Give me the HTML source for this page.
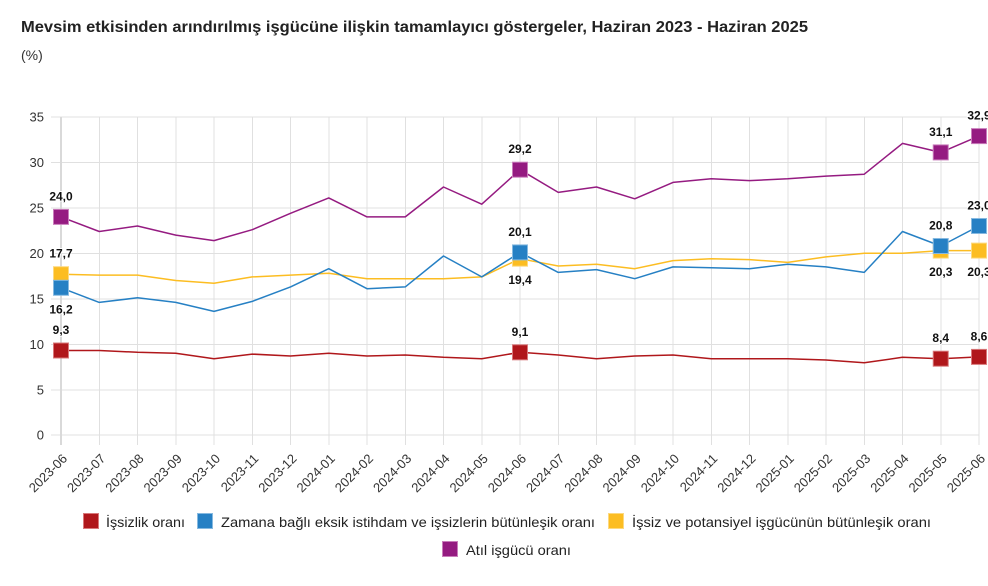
<!DOCTYPE html>
<html><head><meta charset="utf-8"><style>
html,body{margin:0;padding:0;background:#fff;}
svg{display:block;font-family:"Liberation Sans",Arial,sans-serif;}
.yl{font-size:13px;fill:#333;text-anchor:end;}
.xl{font-size:13px;fill:#333;text-anchor:end;}
.dl{font-size:12px;font-weight:bold;fill:#111;text-anchor:middle;stroke:#fff;stroke-width:2px;paint-order:stroke;stroke-linejoin:round;}
.lg{font-size:14px;fill:#222;}
</style></head><body>
<svg width="988" height="586" viewBox="0 0 988 586" xmlns="http://www.w3.org/2000/svg">
<rect width="988" height="586" fill="#fff"/>
<text x="21" y="32" font-size="16" font-weight="bold" fill="#222" textLength="787" lengthAdjust="spacingAndGlyphs">Mevsim etkisinden arındırılmış işgücüne ilişkin tamamlayıcı göstergeler, Haziran 2023 - Haziran 2025</text>
<text x="21" y="60" font-size="14" fill="#333">(%)</text>

<g stroke="#e0e0e0" stroke-width="1" shape-rendering="crispEdges">
<line x1="51" x2="979" y1="117" y2="117"/>
<line x1="51" x2="979" y1="162.6" y2="162.6"/>
<line x1="51" x2="979" y1="208.1" y2="208.1"/>
<line x1="51" x2="979" y1="253.7" y2="253.7"/>
<line x1="51" x2="979" y1="299.2" y2="299.2"/>
<line x1="51" x2="979" y1="344.6" y2="344.6"/>
<line x1="51" x2="979" y1="390" y2="390"/>
<line x1="51" x2="979" y1="435" y2="435"/>
<line x1="99.25" x2="99.25" y1="117" y2="445"/>
<line x1="137.5" x2="137.5" y1="117" y2="445"/>
<line x1="175.75" x2="175.75" y1="117" y2="445"/>
<line x1="214" x2="214" y1="117" y2="445"/>
<line x1="252.25" x2="252.25" y1="117" y2="445"/>
<line x1="290.5" x2="290.5" y1="117" y2="445"/>
<line x1="328.75" x2="328.75" y1="117" y2="445"/>
<line x1="367" x2="367" y1="117" y2="445"/>
<line x1="405.25" x2="405.25" y1="117" y2="445"/>
<line x1="443.5" x2="443.5" y1="117" y2="445"/>
<line x1="481.75" x2="481.75" y1="117" y2="445"/>
<line x1="520" x2="520" y1="117" y2="445"/>
<line x1="558.25" x2="558.25" y1="117" y2="445"/>
<line x1="596.5" x2="596.5" y1="117" y2="445"/>
<line x1="634.75" x2="634.75" y1="117" y2="445"/>
<line x1="673" x2="673" y1="117" y2="445"/>
<line x1="711.25" x2="711.25" y1="117" y2="445"/>
<line x1="749.5" x2="749.5" y1="117" y2="445"/>
<line x1="787.75" x2="787.75" y1="117" y2="445"/>
<line x1="826" x2="826" y1="117" y2="445"/>
<line x1="864.25" x2="864.25" y1="117" y2="445"/>
<line x1="902.5" x2="902.5" y1="117" y2="445"/>
<line x1="940.75" x2="940.75" y1="117" y2="445"/>
<line x1="979" x2="979" y1="117" y2="445"/>
</g>
<line x1="61" x2="61" y1="117" y2="445" stroke="#d9d9d9" stroke-width="2"/>

<g class="yl">
<text x="44" y="121.5">35</text>
<text x="44" y="167.1">30</text>
<text x="44" y="212.6">25</text>
<text x="44" y="258.2">20</text>
<text x="44" y="303.7">15</text>
<text x="44" y="349.1">10</text>
<text x="44" y="394.5">5</text>
<text x="44" y="439.5">0</text>
</g>

<g class="xl">
<text transform="translate(68,459.4) rotate(-45)">2023-06</text>
<text transform="translate(106.25,459.4) rotate(-45)">2023-07</text>
<text transform="translate(144.5,459.4) rotate(-45)">2023-08</text>
<text transform="translate(182.75,459.4) rotate(-45)">2023-09</text>
<text transform="translate(221,459.4) rotate(-45)">2023-10</text>
<text transform="translate(259.25,459.4) rotate(-45)">2023-11</text>
<text transform="translate(297.5,459.4) rotate(-45)">2023-12</text>
<text transform="translate(335.75,459.4) rotate(-45)">2024-01</text>
<text transform="translate(374,459.4) rotate(-45)">2024-02</text>
<text transform="translate(412.25,459.4) rotate(-45)">2024-03</text>
<text transform="translate(450.5,459.4) rotate(-45)">2024-04</text>
<text transform="translate(488.75,459.4) rotate(-45)">2024-05</text>
<text transform="translate(527,459.4) rotate(-45)">2024-06</text>
<text transform="translate(565.25,459.4) rotate(-45)">2024-07</text>
<text transform="translate(603.5,459.4) rotate(-45)">2024-08</text>
<text transform="translate(641.75,459.4) rotate(-45)">2024-09</text>
<text transform="translate(680,459.4) rotate(-45)">2024-10</text>
<text transform="translate(718.25,459.4) rotate(-45)">2024-11</text>
<text transform="translate(756.5,459.4) rotate(-45)">2024-12</text>
<text transform="translate(794.75,459.4) rotate(-45)">2025-01</text>
<text transform="translate(833,459.4) rotate(-45)">2025-02</text>
<text transform="translate(871.25,459.4) rotate(-45)">2025-03</text>
<text transform="translate(909.5,459.4) rotate(-45)">2025-04</text>
<text transform="translate(947.75,459.4) rotate(-45)">2025-05</text>
<text transform="translate(986,459.4) rotate(-45)">2025-06</text>
</g>

<g fill="none" stroke-width="1.5" stroke-linejoin="round">
<polyline stroke="#b0171b" points="61,350.5 99.25,350.5 137.5,352.3 175.75,353.2 214,358.7 252.25,354.1 290.5,356 328.75,353.2 367,356 405.25,355 443.5,357.3 481.75,358.7 520,352.3 558.25,355 596.5,358.7 634.75,356 673,355 711.25,358.7 749.5,358.7 787.75,358.7 826,360 864.25,362.8 902.5,357.3 940.75,358.7 979,356.9"/>
<polyline stroke="#fcbd22" points="61,274.2 99.25,275.1 137.5,275.1 175.75,280.5 214,283.3 252.25,276.9 290.5,275.1 328.75,273.3 367,278.7 405.25,278.7 443.5,278.7 481.75,276.9 520,258.7 558.25,266 596.5,264.2 634.75,268.7 673,260.6 711.25,258.7 749.5,259.6 787.75,262.4 826,256.9 864.25,253.3 902.5,253.3 940.75,250.6 979,250.6"/>
<polyline stroke="#2680c4" points="61,287.8 99.25,302.4 137.5,297.8 175.75,302.4 214,311.4 252.25,301.4 290.5,286.9 328.75,268.7 367,288.7 405.25,286.9 443.5,256 481.75,276.9 520,252.4 558.25,272.4 596.5,269.6 634.75,278.7 673,266.9 711.25,267.8 749.5,268.7 787.75,264.2 826,266.9 864.25,272.4 902.5,231.5 940.75,246 979,226"/>
<polyline stroke="#951b81" points="61,216.9 99.25,231.5 137.5,226 175.75,235.1 214,240.6 252.25,229.7 290.5,213.3 328.75,197.9 367,216.9 405.25,216.9 443.5,187 481.75,204.2 520,169.7 558.25,192.4 596.5,187 634.75,198.8 673,182.4 711.25,178.8 749.5,180.6 787.75,178.8 826,176.1 864.25,174.2 902.5,143.4 940.75,152.4 979,136.1"/>
</g>

<g stroke-width="1">
<g fill="#b0171b" stroke="#d8787a">
<rect x="53.5" y="343" width="15" height="15"/>
<rect x="512.5" y="344.8" width="15" height="15"/>
<rect x="933.25" y="351.2" width="15" height="15"/>
<rect x="971.5" y="349.4" width="15" height="15"/>
</g>
<g fill="#fcbd22" stroke="#fdd97f">
<rect x="53.5" y="266.7" width="15" height="15"/>
<rect x="512.5" y="251.2" width="15" height="15"/>
<rect x="933.25" y="243.1" width="15" height="15"/>
<rect x="971.5" y="243.1" width="15" height="15"/>
</g>
<g fill="#2680c4" stroke="#86b9e0">
<rect x="53.5" y="280.3" width="15" height="15"/>
<rect x="512.5" y="244.9" width="15" height="15"/>
<rect x="933.25" y="238.5" width="15" height="15"/>
<rect x="971.5" y="218.5" width="15" height="15"/>
</g>
<g fill="#951b81" stroke="#c97dbb">
<rect x="53.5" y="209.4" width="15" height="15"/>
<rect x="512.5" y="162.2" width="15" height="15"/>
<rect x="933.25" y="144.9" width="15" height="15"/>
<rect x="971.5" y="128.6" width="15" height="15"/>
</g>
</g>

<g class="dl">
<text x="61" y="334">9,3</text>
<text x="61" y="257.7">17,7</text>
<text x="61" y="313.3">16,2</text>
<text x="61" y="200.4">24,0</text>
<text x="520" y="335.8">9,1</text>
<text x="520" y="235.9">20,1</text>
<text x="520" y="284.2">19,4</text>
<text x="520" y="153.2">29,2</text>
<text x="940.75" y="342.2">8,4</text>
<text x="940.75" y="229.5">20,8</text>
<text x="940.75" y="276.1">20,3</text>
<text x="940.75" y="135.9">31,1</text>
<text x="979" y="340.4">8,6</text>
<text x="979" y="209.5">23,0</text>
<text x="979" y="276.1">20,3</text>
<text x="979" y="119.6">32,9</text>
</g>

<g stroke-width="1">
<rect x="83.5" y="513.5" width="15" height="15" fill="#b0171b" stroke="#d8787a"/>
<rect x="197.5" y="513.5" width="15" height="15" fill="#2680c4" stroke="#86b9e0"/>
<rect x="608.5" y="513.5" width="15" height="15" fill="#fcbd22" stroke="#fdd97f"/>
<rect x="442.5" y="541.5" width="15" height="15" fill="#951b81" stroke="#c97dbb"/>
</g>
<g class="lg">
<text x="106" y="527" textLength="79" lengthAdjust="spacingAndGlyphs">İşsizlik oranı</text>
<text x="221" y="527" textLength="374" lengthAdjust="spacingAndGlyphs">Zamana bağlı eksik istihdam ve işsizlerin bütünleşik oranı</text>
<text x="632" y="527" textLength="299" lengthAdjust="spacingAndGlyphs">İşsiz ve potansiyel işgücünün bütünleşik oranı</text>
<text x="466" y="555" textLength="105" lengthAdjust="spacingAndGlyphs">Atıl işgücü oranı</text>
</g>
</svg>
</body></html>
